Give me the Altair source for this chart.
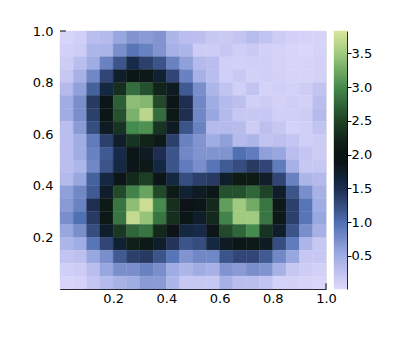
import altair as alt
import pandas as pd
import numpy as np

rows = [
 [.05,.12,.30,.35,.55,.70,.65,.70,.40,.30,.28,.20,.17,.22,.33,.25,.15,.10,.08,.07],
 [.10,.15,.40,.42,.75,.95,.85,.70,.45,.40,.15,.15,.20,.13,.17,.10,.08,.05,.04,.07],
 [.15,.30,.50,.85,1.20,1.55,1.35,1.20,.85,.60,.35,.30,.12,.10,.12,.12,.10,.06,.07,.10],
 [.20,.45,.80,1.30,1.75,2.00,2.05,1.70,1.30,.85,.45,.30,.12,.18,.10,.12,.10,.07,.07,.10],
 [.35,.60,1.10,1.60,2.30,2.80,2.60,2.20,1.80,1.15,.75,.40,.25,.12,.25,.08,.12,.10,.15,.25],
 [.50,.75,1.40,1.95,2.70,3.40,3.35,2.55,1.95,1.50,.80,.50,.35,.28,.12,.15,.10,.13,.10,.30],
 [.50,.75,1.35,2.00,2.60,3.30,3.65,2.80,2.05,1.50,.80,.55,.35,.20,.20,.20,.12,.12,.15,.35],
 [.30,.65,1.25,1.80,2.35,3.00,3.05,2.35,1.80,1.20,.85,.35,.35,.33,.15,.28,.20,.08,.12,.25],
 [.30,.50,.90,1.35,1.75,2.35,2.20,2.05,1.35,.85,.70,.50,.60,.35,.40,.25,.28,.22,.12,.15],
 [.30,.50,.85,1.15,1.55,1.95,1.80,1.50,1.20,.80,.70,.70,.70,1.00,.90,.60,.55,.30,.22,.15],
 [.30,.40,.80,1.20,1.60,1.95,2.05,1.60,1.20,.90,.75,.95,1.15,1.25,1.40,1.30,.90,.45,.20,.20],
 [.35,.55,1.10,1.60,1.95,2.25,2.45,1.95,1.60,1.25,1.35,1.40,1.75,2.10,2.10,1.75,1.30,.85,.40,.35],
 [.60,.80,1.15,1.75,2.55,2.95,3.20,2.55,2.10,1.70,1.80,2.00,2.60,2.60,2.75,2.50,1.75,1.20,.75,.45],
 [.65,.85,1.50,2.10,2.85,3.40,3.75,3.00,2.30,1.90,1.95,2.25,3.15,3.50,3.25,2.85,2.05,1.35,.95,.50],
 [.75,1.00,1.40,2.05,2.85,3.70,3.45,2.85,2.30,2.00,1.75,2.25,2.95,3.50,3.50,2.85,2.05,1.35,.95,.55],
 [.55,.75,1.25,1.75,2.40,2.75,2.85,2.25,1.90,1.60,1.55,1.95,2.55,2.75,3.00,2.35,1.75,1.20,.75,.45],
 [.40,.50,.95,1.30,1.70,2.15,2.05,1.75,1.45,1.20,1.25,1.60,1.80,2.00,2.05,1.80,1.25,.90,.40,.20],
 [.25,.28,.55,.75,1.15,1.35,1.40,1.20,.95,.70,.80,.80,1.20,1.30,1.30,1.15,.80,.55,.20,.20],
 [.12,.15,.30,.55,.75,.75,.85,.75,.50,.40,.50,.45,.70,.65,.75,.70,.45,.20,.15,.10],
 [.05,.08,.22,.35,.45,.50,.65,.65,.40,.20,.20,.20,.45,.30,.30,.25,.10,.10,.07,.05],
]
y_ticks = [0.2, 0.4, 0.6, 0.8, 1.0]
cbar_ticks = [0.5, 1.0, 1.5, 2.0, 2.5, 3.0, 3.5]
cmin, cmax = 0.01, 3.83
color_domain = [cmin, 0.5, 1.0, 1.5, 1.9, 2.1, 2.5, 3.0, 3.5, cmax]
stop_colors = ["#DDD9FC", "#A0ADE4", "#4F70B2", "#1E2D50", "#0D1316",
               "#0E1A14", "#1F4326", "#458B4E", "#A0CA80", "#DAE59C"]
FONT = "DejaVu Sans"

n = len(rows)
cells = pd.DataFrame([
    {"x0": j / n, "x1": (j + 1) / n, "y1": 1 - i / n, "y0": 1 - (i + 1) / n, "v": rows[i][j]}
    for i in range(n) for j in range(n)
])
scale = alt.Scale(domain=color_domain, range=stop_colors, clamp=True)

W, H = 266, 258
xs = alt.Scale(domain=[0, 1], nice=False, zero=False)
ys = alt.Scale(domain=[0, 1], nice=False, zero=False)

heat = alt.Chart(cells).mark_rect(strokeWidth=0.4).encode(
    x=alt.X("x0:Q", scale=xs, title=None,
            axis=alt.Axis(values=y_ticks, format=".1f", ticks=False, labelPadding=3,
                          grid=True, gridColor="#e4e4e4", domainColor="black",
                          labelFont=FONT, labelFontSize=13, labelColor="black",
                          labelFlush=False, labelOverlap=False)),
    x2="x1:Q",
    y=alt.Y("y0:Q", scale=ys, title=None,
            axis=alt.Axis(values=y_ticks, format=".1f", ticks=False, labelPadding=7,
                          grid=True, gridColor="#e4e4e4", domainColor="black",
                          labelFont=FONT, labelFontSize=13, labelColor="black",
                          labelFlush=False, labelOverlap=False)),
    y2="y1:Q",
    color=alt.Color("v:Q", scale=scale, legend=None),
    stroke=alt.Stroke("v:Q", scale=scale, legend=None),
)

corner_ticks = pd.DataFrame({"x": [0.0, 1.0], "x2": [0.022, 1.0], "y": [1.0, 0.0], "y2": [1.0, 0.022]})
ticks = alt.Chart(corner_ticks).mark_rule(color="black", strokeWidth=1).encode(
    x=alt.X("x:Q", scale=xs), x2="x2:Q", y=alt.Y("y:Q", scale=ys), y2="y2:Q")

main = alt.layer(heat, ticks).properties(width=W, height=H)

levels = np.linspace(cmin, cmax, 130)
bar_df = pd.DataFrame({"lo": levels[:-1], "hi": levels[1:], "v": (levels[:-1] + levels[1:]) / 2})
bar = alt.Chart(bar_df).mark_rect(strokeWidth=0.4).encode(
    y=alt.Y("lo:Q", scale=alt.Scale(domain=[cmin, cmax], nice=False, zero=False), title=None,
            axis=alt.Axis(orient="right", values=cbar_ticks, format=".1f", tickSize=4, tickColor="black",
                          domainColor="black", grid=False, labelPadding=0,
                          labelFont=FONT, labelFontSize=13, labelColor="black")),
    y2="hi:Q",
    color=alt.Color("v:Q", scale=scale, legend=None),
    stroke=alt.Stroke("v:Q", scale=scale, legend=None),
).properties(width=13, height=H)

chart = alt.hconcat(main, bar, spacing=8, bounds="flush").resolve_scale(color="independent", stroke="independent").properties(
    padding={"left": 24, "top": 17, "right": 0, "bottom": 0},
    background="white",
).configure_view(stroke=None)

chart.save("out.html", embed_options={"renderer": "svg", "actions": False})
